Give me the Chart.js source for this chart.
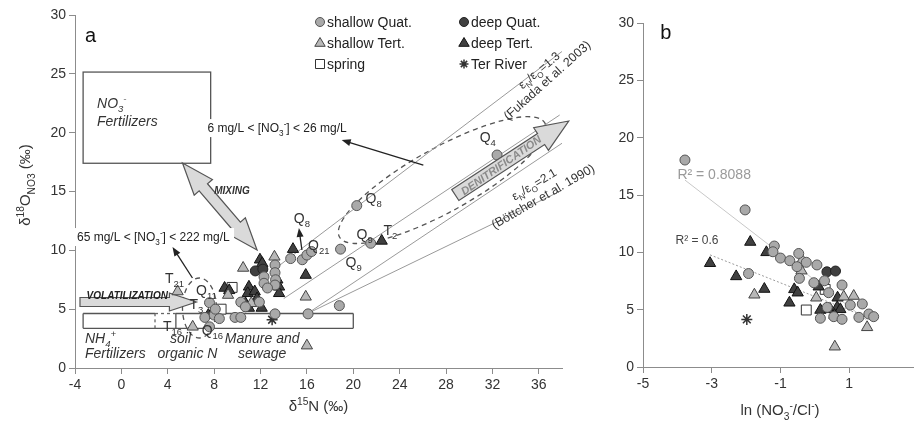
<!DOCTYPE html>
<html>
<head>
<meta charset="utf-8">
<script src="https://cdn.jsdelivr.net/npm/chart.js@4.4.0/dist/chart.umd.min.js"></script>
<style>
  html, body { margin: 0; padding: 0; background: #fff; overflow: hidden; width: 914px; height: 421px; }
  #chartA { position: absolute; left: 0; top: 0; }
  #chartB { position: absolute; left: 600px; top: 0; }
</style>
</head>
<body>
<canvas id="chartA" width="600" height="421"></canvas>
<canvas id="chartB" width="330" height="421"></canvas>
<script>
// ---- data ----
const categories = ['shallow Quat.', 'deep Quat.', 'shallow Tert.', 'deep Tert.', 'spring', 'Ter River'];

// panel a: d15N (x) vs d18O (y)
const shallowQuatA = [[32.4,18.1],[20.3,13.8],[18.9,10.1],[21.5,10.6],[15.6,9.2],[16.0,9.6],[16.4,9.9],[14.6,9.3],
  [13.25,8.75],[13.25,8.1],[13.3,7.5],[13.25,7.05],[12.3,7.75],[12.3,7.2],[12.6,6.8],[10.3,5.6],[10.7,5.2],[11.9,5.6],
  [18.8,5.3],[16.1,4.6],[13.25,4.6],[9.8,4.3],[10.3,4.3],[7.6,5.55],[7.2,4.3],[8.0,4.5],[8.45,4.2],[7.6,3.5],[8.1,5.0]];
const deepQuatA = [[11.55,8.25],[12.2,8.4]];
const shallowTertA = [[4.85,6.5],[6.15,3.5],[9.2,6.2],[10.5,8.5],[13.2,9.45],[15.9,6.05],[16.0,1.9],[11.2,5.5]];
const deepTertA = [[22.45,10.8],[14.8,10.1],[11.95,9.2],[12.15,8.9],[15.9,7.9],[13.45,7.5],[13.6,6.9],[13.6,6.35],
  [11.0,6.9],[10.9,6.35],[11.5,6.5],[11.7,5.9],[12.1,5.1],[8.9,6.8],[9.3,6.6],[7.5,4.5],[10.7,5.5],[11.0,5.1]];
const springA = [[9.55,6.85],[8.6,5.0]];
const riverA = [[13.0,4.1]];
// enrichment lines (eN/eO) in panel a
const ratioLinesA = [
  [[12.8,8.1],[38,26.9]],
  [[14,5.9],[37.8,21.5]],
  [[16,4.6],[38,19.1]],
  [[16,4.6],[38,15.1]]
];

// panel b: ln(NO3/Cl) (x) vs d18O (y)
const shallowQuatB = [[-3.78,18.05],[-2.03,13.7],[-1.93,8.15],[-1.18,10.55],[-1.22,10.05],[-1.0,9.5],[-0.73,9.27],
  [-0.47,9.9],[-0.25,9.13],[-0.52,8.75],[-0.45,7.73],[0.06,8.9],[-0.03,7.35],[0.28,7.52],[0.4,6.48],[0.79,7.15],
  [1.03,5.4],[1.38,5.5],[0.16,4.25],[0.36,5.2],[0.55,4.39],[0.79,4.16],[1.28,4.33],[1.57,4.62],[1.71,4.39]];
const deepQuatB = [[0.35,8.3],[0.6,8.37]];
const shallowTertB = [[-1.76,6.3],[-0.37,9.33],[-0.39,8.4],[0.04,6.04],[0.84,6.13],[1.13,6.19],[1.52,3.46],[0.58,1.77]];
const deepTertB = [[-1.88,10.9],[-3.05,9.05],[-2.29,7.9],[-1.47,6.8],[-1.41,10.0],[-0.6,6.77],[-0.5,6.48],[-0.74,5.6],
  [0.11,7.0],[0.66,6.04],[0.16,4.97],[0.45,5.03],[0.65,5.2],[0.74,5.03],[0.57,4.53]];
const springB = [[-0.25,4.97],[0.3,6.77]];
const riverB = [[-1.98,4.15]];
const trendB1 = [[-3.78,16.3],[1.5,4.1]];   // R2 = 0.8088
const trendB2 = [[-3.05,9.78],[1.23,4.68]]; // R2 = 0.6

const xTicksA = [-4, 0, 4, 8, 12, 16, 20, 24, 28, 32, 36];

// sample labels (panel a)
const sampleLabels = [['Q','4',31.6,19.6],['Q','8',21.75,14.44],['Q','8',15.57,12.74],['Q','9',20.98,11.38],
  ['Q','9',20.03,9.0],['T','2',23.2,11.72],['Q','21',17.03,10.45],['T','21',4.58,7.65],['Q','11',7.33,6.63],
  ['T','3',6.47,5.44],['T','16',4.41,3.57],['Q','16',7.85,3.23]];

// ---- styles ----
const FONT = "'Liberation Sans', Arial, sans-serif";
const LIGHT = '#a9a9a9', DARK = '#404040';
const styles = [
  { pointStyle: 'circle', radius: 5, bg: LIGHT, border: '#555', bw: 1 },
  { pointStyle: 'circle', radius: 5, bg: DARK, border: '#222', bw: 1 },
  { pointStyle: 'triangle', radius: 6.5, bg: '#b8b8b8', border: '#444', bw: 1 },
  { pointStyle: 'triangle', radius: 6.5, bg: DARK, border: '#111', bw: 1 },
  { pointStyle: 'rect', radius: 7, bg: '#fff', border: '#333', bw: 1 },
  { pointStyle: 'star', radius: 5.5, bg: '#333', border: '#333', bw: 1.5 }
];

const toXY = a => a.map(p => ({ x: p[0], y: p[1] }));

function pointSets(lists) {
  return lists.map((l, i) => ({
    label: categories[i],
    data: toXY(l),
    pointStyle: styles[i].pointStyle,
    pointRadius: styles[i].radius,
    pointBackgroundColor: styles[i].bg,
    pointBorderColor: styles[i].border,
    pointBorderWidth: styles[i].bw,
    showLine: false
  }));
}

function lineSet(pts, color, dash) {
  return { data: toXY(pts), showLine: true, pointRadius: 0, borderColor: color, borderWidth: 1, borderDash: dash || [], fill: false };
}

// rich text with sub/superscripts, y = vertical middle
function rich(ctx, parts, x, y, size, opt) {
  opt = opt || {};
  const st = opt.style || '';
  const fnt = sz => st + sz + 'px ' + FONT;
  let w = 0;
  const items = parts.map(p => {
    if (typeof p === 'string') p = { t: p };
    const sz = p.s ? size * 0.68 : size;
    ctx.font = fnt(sz);
    const mw = ctx.measureText(p.t).width;
    w += mw;
    return { t: p.t, s: p.s, sz, mw };
  });
  let cx = opt.align === 'center' ? x - w / 2 : opt.align === 'right' ? x - w : x;
  ctx.textAlign = 'left';
  ctx.textBaseline = 'alphabetic';
  const base = y + size * 0.36;
  items.forEach(it => {
    ctx.font = fnt(it.sz);
    const dy = it.s === 'sub' ? size * 0.28 : it.s === 'sup' ? -size * 0.42 : 0;
    ctx.fillText(it.t, cx, base + dy);
    cx += it.mw;
  });
  return w;
}

function P(chart, x, y) {
  return [chart.scales.x.getPixelForValue(x), chart.scales.y.getPixelForValue(y)];
}

function fatArrow(ctx, a, b, sw, hw, hl, dbl) {
  const dx = b[0] - a[0], dy = b[1] - a[1];
  const L = Math.hypot(dx, dy), ang = Math.atan2(dy, dx);
  const s = sw / 2, H = hw / 2;
  let pts;
  if (dbl) pts = [[hl,-s],[L-hl,-s],[L-hl,-H],[L,0],[L-hl,H],[L-hl,s],[hl,s],[hl,H],[0,0],[hl,-H]];
  else pts = [[0,-s],[L-hl,-s],[L-hl,-H],[L,0],[L-hl,H],[L-hl,s],[0,s]];
  ctx.save();
  ctx.translate(a[0], a[1]);
  ctx.rotate(ang);
  ctx.beginPath();
  pts.forEach((p, i) => i ? ctx.lineTo(p[0], p[1]) : ctx.moveTo(p[0], p[1]));
  ctx.closePath();
  ctx.fillStyle = '#dadada';
  ctx.fill();
  ctx.strokeStyle = '#555';
  ctx.lineWidth = 1.2;
  ctx.setLineDash([]);
  ctx.stroke();
  ctx.restore();
}

function thinArrow(ctx, a, b) {
  const ang = Math.atan2(b[1] - a[1], b[0] - a[0]);
  ctx.save();
  ctx.strokeStyle = '#222';
  ctx.fillStyle = '#222';
  ctx.lineWidth = 1.3;
  ctx.beginPath();
  ctx.moveTo(a[0], a[1]);
  ctx.lineTo(b[0] - 6 * Math.cos(ang), b[1] - 6 * Math.sin(ang));
  ctx.stroke();
  ctx.translate(b[0], b[1]);
  ctx.rotate(ang);
  ctx.beginPath();
  ctx.moveTo(0, 0); ctx.lineTo(-9, -3.5); ctx.lineTo(-9, 3.5); ctx.closePath();
  ctx.fill();
  ctx.restore();
}

function marker(ctx, st, x, y, r) {
  ctx.save();
  ctx.fillStyle = st.bg; ctx.strokeStyle = st.border; ctx.lineWidth = st.bw;
  ctx.beginPath();
  if (st.pointStyle === 'circle') ctx.arc(x, y, r, 0, Math.PI * 2);
  else if (st.pointStyle === 'triangle') { ctx.moveTo(x, y - r); ctx.lineTo(x + r * 0.95, y + r * 0.6); ctx.lineTo(x - r * 0.95, y + r * 0.6); ctx.closePath(); }
  else if (st.pointStyle === 'rect') ctx.rect(x - r, y - r, 2 * r, 2 * r);
  if (st.pointStyle === 'star') {
    ctx.moveTo(x - r, y); ctx.lineTo(x + r, y); ctx.moveTo(x, y - r); ctx.lineTo(x, y + r);
    ctx.moveTo(x - r * 0.7, y - r * 0.7); ctx.lineTo(x + r * 0.7, y + r * 0.7);
    ctx.moveTo(x - r * 0.7, y + r * 0.7); ctx.lineTo(x + r * 0.7, y - r * 0.7);
    ctx.stroke();
  } else { ctx.fill(); ctx.stroke(); }
  ctx.restore();
}

function axisCommon(size) {
  return {
    grid: { display: true, drawOnChartArea: false, drawTicks: true, tickLength: 6, color: '#8c8c8c' },
    border: { display: true, color: '#8c8c8c', width: 1 },
    ticks: { color: '#333', font: { size: size, family: FONT }, padding: 3, maxRotation: 0 }
  };
}

// ---- panel a annotations ----
const annotA = {
  id: 'annotA',
  beforeDatasetsDraw(chart) {
    const ctx = chart.ctx;
    ctx.save();
    // NO3- fertilizer box
    let a = P(chart, -3.3, 25.15), b = P(chart, 7.7, 17.4);
    ctx.strokeStyle = '#555'; ctx.lineWidth = 1.3;
    ctx.strokeRect(a[0], a[1], b[0] - a[0], b[1] - a[1]);
    // NH4 / soil / manure boxes
    const segs = [
      [-3.3, 3.37, -3.3, 4.63, 0], [-3.3, 3.37, 20, 3.37, 0], [-3.3, 4.63, 2.9, 4.63, 0],
      [2.9, 4.63, 4.7, 4.63, 1], [2.9, 3.37, 2.9, 4.63, 1], [4.7, 3.37, 4.7, 4.63, 0],
      [4.7, 4.63, 20, 4.63, 0], [20, 3.37, 20, 4.63, 0]
    ];
    segs.forEach(s => {
      const p0 = P(chart, s[0], s[1]), p1 = P(chart, s[2], s[3]);
      ctx.setLineDash(s[4] ? [3, 3] : []);
      ctx.strokeStyle = s[4] ? '#666' : '#555';
      ctx.beginPath(); ctx.moveTo(p0[0], p0[1]); ctx.lineTo(p1[0], p1[1]); ctx.stroke();
    });
    // dashed ellipses
    const ux = chart.scales.x.getPixelForValue(1) - chart.scales.x.getPixelForValue(0);
    const uy = chart.scales.y.getPixelForValue(0) - chart.scales.y.getPixelForValue(1);
    ctx.setLineDash([5, 4]); ctx.strokeStyle = '#555'; ctx.lineWidth = 1.3;
    let c = P(chart, 6.73, 5.1);
    ctx.beginPath(); ctx.ellipse(c[0], c[1], 1.46 * ux, 2.55 * uy, 0, 0, Math.PI * 2); ctx.stroke();
    c = P(chart, 27.67, 15.97);
    ctx.beginPath(); ctx.ellipse(c[0], c[1], 10.13 * ux, 2.75 * ux, -29 * Math.PI / 180, 0, Math.PI * 2); ctx.stroke();
    ctx.setLineDash([]);
    // MIXING and VOLATILIZATION arrows
    fatArrow(ctx, P(chart, 5.27, 17.42), P(chart, 11.7, 10.03), 11, 24, 32, true);
    fatArrow(ctx, P(chart, -3.57, 5.61), P(chart, 6.47, 5.61), 9, 18, 27, false);
    ctx.restore();
  },
  afterDatasetsDraw(chart) {
    const ctx = chart.ctx;
    ctx.save();
    // denitrification arrow
    const t0 = P(chart, 28.8, 14.7), t1 = P(chart, 38.58, 20.99);
    fatArrow(ctx, t0, t1, 13, 27, 33, false);
    ctx.fillStyle = '#8a8a8a';
    let c = P(chart, 32.74, 17.25);
    ctx.save(); ctx.translate(c[0], c[1]); ctx.rotate(-35 * Math.PI / 180);
    rich(ctx, ['DENITRIFICATION'], 0, 0, 11, { align: 'center', style: 'italic bold ' });
    ctx.restore();

    ctx.fillStyle = '#333';
    c = P(chart, 8.0, 15.1);
    rich(ctx, ['MIXING'], c[0], c[1], 10, { style: 'italic bold ' });
    c = P(chart, -3.0, 6.2);
    ctx.fillStyle = '#222';
    rich(ctx, ['VOLATILIZATION'], c[0], c[1], 10, { style: 'italic bold ' });

    // concentration labels with arrows
    thinArrow(ctx, P(chart, 26.04, 17.25), P(chart, 19.0, 19.37));
    thinArrow(ctx, P(chart, 6.13, 7.65), P(chart, 4.41, 10.28));
    thinArrow(ctx, P(chart, 15.57, 10.03), P(chart, 15.31, 11.9));
    const conc = [
      [7.42, 20.39, ['6 mg/L < [NO', { t: '3', s: 'sub' }, { t: '-', s: 'sup' }, '] < 26 mg/L']],
      [-3.83, 11.13, ['65 mg/L < [NO', { t: '3', s: 'sub' }, { t: '-', s: 'sup' }, '] < 222 mg/L']]
    ];
    conc.forEach(q => {
      const p = P(chart, q[0], q[1]);
      ctx.fillStyle = '#fff';
      ctx.font = '12px ' + FONT;
      ctx.fillRect(p[0] - 3, p[1] - 9, ctx.measureText(q[2].map(z => z.t || z).join('')).width + 4, 18);
      ctx.fillStyle = '#222';
      rich(ctx, q[2], p[0], p[1], 12);
    });

    // box labels
    ctx.fillStyle = '#333';
    c = P(chart, -2.1, 22.5);
    rich(ctx, ['NO', { t: '3', s: 'sub' }, { t: '-', s: 'sup' }], c[0], c[1], 14, { style: 'italic ' });
    c = P(chart, -2.1, 21.0);
    rich(ctx, ['Fertilizers'], c[0], c[1], 14, { style: 'italic ' });
    c = P(chart, -3.14, 2.55);
    rich(ctx, ['NH', { t: '4', s: 'sub' }, { t: '+', s: 'sup' }], c[0], c[1], 14, { style: 'italic ' });
    c = P(chart, -3.14, 1.27);
    rich(ctx, ['Fertilizers'], c[0], c[1], 14, { style: 'italic ' });
    c = P(chart, 5.1, 2.55); rich(ctx, ['soil'], c[0], c[1], 14, { style: 'italic ', align: 'center' });
    c = P(chart, 5.7, 1.27); rich(ctx, ['organic N'], c[0], c[1], 14, { style: 'italic ', align: 'center' });
    c = P(chart, 12.14, 2.55); rich(ctx, ['Manure and'], c[0], c[1], 14, { style: 'italic ', align: 'center' });
    c = P(chart, 12.14, 1.27); rich(ctx, ['sewage'], c[0], c[1], 14, { style: 'italic ', align: 'center' });

    // enrichment line labels
    const rl = [
      [36.0, 25.32, -40, ['\u03b5', { t: 'N', s: 'sub' }, '/\u03b5', { t: 'O', s: 'sub' }, '=1.3'], 12],
      [36.69, 24.47, -42, ['(Fukada et al. 2003)'], 12.5],
      [35.57, 15.63, -31, ['\u03b5', { t: 'N', s: 'sub' }, '/\u03b5', { t: 'O', s: 'sub' }, '=2.1'], 12],
      [36.34, 14.61, -30, ['(B\u00f6ttcher et al. 1990)'], 12.5]
    ];
    ctx.fillStyle = '#333';
    rl.forEach(r => {
      const p = P(chart, r[0], r[1]);
      ctx.save(); ctx.translate(p[0], p[1]); ctx.rotate(r[2] * Math.PI / 180);
      rich(ctx, r[3], 0, 0, r[4], { align: 'center' });
      ctx.restore();
    });

    // sample labels
    ctx.fillStyle = '#333';
    sampleLabels.forEach(s => {
      const p = P(chart, s[2], s[3]);
      rich(ctx, [s[0], { t: s[1], s: 'sub' }], p[0], p[1], 14, { align: 'center' });
    });

    // panel letter
    ctx.fillStyle = '#111';
    c = P(chart, -3.14, 28.3);
    rich(ctx, ['a'], c[0], c[1], 20);

    // legend
    const lx = [320, 464], ly = [22, 43, 64];
    categories.forEach((name, i) => {
      const x = lx[i % 2], y = ly[Math.floor(i / 2)];
      const st = styles[i];
      const r = st.pointStyle === 'triangle' ? 5.5 : 4.5;
      marker(ctx, st, x, y, r);
      ctx.fillStyle = '#222';
      rich(ctx, [name], x + 7, y, 14);
    });

    // axis titles
    const ca = chart.chartArea;
    ctx.fillStyle = '#333';
    ctx.save(); ctx.translate(25, 185); ctx.rotate(-Math.PI / 2);
    rich(ctx, ['\u03b4', { t: '18', s: 'sup' }, 'O', { t: 'NO3', s: 'sub' }, ' (\u2030)'], 0, 0, 15, { align: 'center' });
    ctx.restore();
    rich(ctx, ['\u03b4', { t: '15', s: 'sup' }, 'N (\u2030)'], (ca.left + ca.right) / 2, 406, 15, { align: 'center' });
    ctx.restore();
  }
};

// ---- panel b annotations ----
const annotB = {
  id: 'annotB',
  afterDatasetsDraw(chart) {
    const ctx = chart.ctx;
    ctx.save();
    ctx.fillStyle = '#111';
    let c = P(chart, -4.5, 29.2);
    rich(ctx, ['b'], c[0], c[1], 20);
    ctx.fillStyle = '#9a9a9a';
    c = P(chart, -2.93, 16.83);
    rich(ctx, ['R\u00b2 = 0.8088'], c[0], c[1], 14, { align: 'center' });
    ctx.fillStyle = '#444';
    c = P(chart, -3.43, 11.07);
    rich(ctx, ['R\u00b2 = 0.6'], c[0], c[1], 12, { align: 'center' });
    ctx.fillStyle = '#333';
    rich(ctx, ['ln (NO', { t: '3', s: 'sub' }, { t: '-', s: 'sup' }, '/Cl', { t: '-', s: 'sup' }, ')'], 180, 410, 15, { align: 'center' });
    ctx.restore();
  }
};

// ---- charts ----
const axA = axisCommon(14), ayA = axisCommon(14);
new Chart(document.getElementById('chartA').getContext('2d'), {
  type: 'scatter',
  data: {
    datasets: pointSets([shallowQuatA, deepQuatA, shallowTertA, deepTertA, springA, riverA])
      .concat(ratioLinesA.map(l => lineSet(l, '#9a9a9a')))
  },
  options: {
    responsive: false,
    animation: false,
    layout: { padding: { top: 15, right: 38, left: 0, bottom: 0 } },
    plugins: { legend: { display: false }, tooltip: { enabled: false } },
    scales: {
      x: Object.assign(axA, {
        type: 'linear', min: -4, max: 38,
        afterBuildTicks: s => { s.ticks = xTicksA.map(v => ({ value: v })); },
        afterFit: s => { s.height = 53; }
      }),
      y: Object.assign(ayA, {
        type: 'linear', min: 0, max: 30,
        ticks: Object.assign(ayA.ticks, { stepSize: 5 }),
        afterFit: s => { s.width = 75; }
      })
    }
  },
  plugins: [annotA]
});

const axB = axisCommon(14), ayB = axisCommon(14);
new Chart(document.getElementById('chartB').getContext('2d'), {
  type: 'scatter',
  data: {
    datasets: pointSets([shallowQuatB, deepQuatB, shallowTertB, deepTertB, springB, riverB])
      .concat([lineSet(trendB1, '#c8c8c8'), lineSet(trendB2, '#9a9a9a', [2, 2])])
  },
  options: {
    responsive: false,
    animation: false,
    layout: { padding: { top: 23, right: 12, left: 0, bottom: 0 } },
    plugins: { legend: { display: false }, tooltip: { enabled: false } },
    scales: {
      x: Object.assign(axB, {
        type: 'linear', min: -5, max: 3,
        ticks: Object.assign(axB.ticks, { stepSize: 2 }),
        afterFit: s => { s.height = 54; }
      }),
      y: Object.assign(ayB, {
        type: 'linear', min: 0, max: 30,
        ticks: Object.assign(ayB.ticks, { stepSize: 5 }),
        afterFit: s => { s.width = 43; }
      })
    }
  },
  plugins: [annotB]
});
</script>
</body>
</html>
